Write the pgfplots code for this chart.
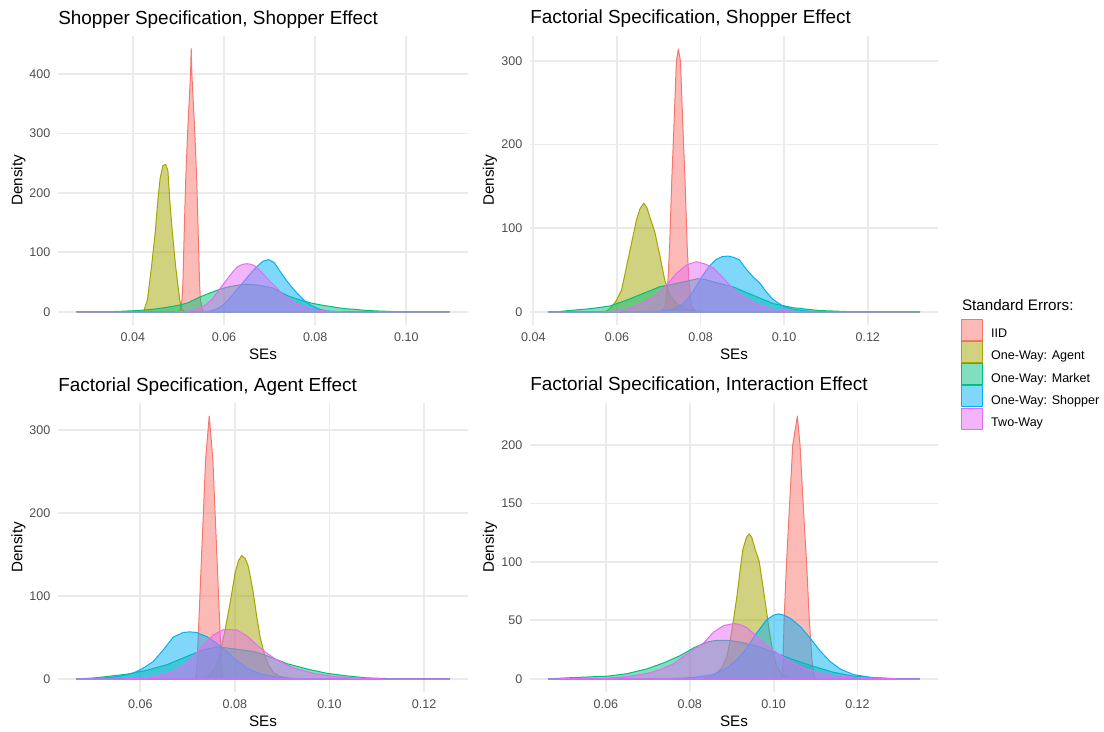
\documentclass[border=0pt]{standalone}
\usepackage{fontspec}
\setmainfont{Liberation Sans}
\usepackage{pgfplots}
\pgfplotsset{compat=1.18}

\definecolor{cIID}{HTML}{F8766D}
\definecolor{cAgent}{HTML}{A3A500}
\definecolor{cMarket}{HTML}{00BF7D}
\definecolor{cShopper}{HTML}{00B0F6}
\definecolor{cTwo}{HTML}{E76BF3}
\definecolor{gridgray}{HTML}{EBEBEB}
\definecolor{ticktext}{HTML}{4D4D4D}

\pgfplotsset{
  panel/.style={
    scale only axis, anchor=south west,
    height=216.75pt,
    axis line style={draw=none},
    major tick length=0pt,
    tick style={draw=none},
    grid=major,
    major grid style={draw=gridgray, line width=1.4pt},
    xticklabel={\pgfmathprintnumber[fixed,fixed zerofill,precision=2,assume math mode=true]{\tick}},
    yticklabel={\pgfmathprintnumber[fixed,precision=0,assume math mode=true]{\tick}},
    ticklabel style={font=\fontsize{9.4}{11}\selectfont, text=ticktext, inner sep=0pt},
    xticklabel style={anchor=north, yshift=-5.5pt},
    yticklabel style={anchor=east, xshift=-5.5pt},
    xlabel={SEs}, ylabel={Density},
    label style={font=\fontsize{11.4}{13}\selectfont, inner sep=0pt},
    xlabel style={at={(axis description cs:0.5,-0.1003)}, anchor=center},
    ylabel style={at={(axis description cs:-0.0963,0.5)}, anchor=center},
    every axis title shift=0pt,
    title style={at={(axis description cs:0,1.0415)}, anchor=base west,
                 font=\fontsize{14.2}{17}\selectfont, inner sep=0pt},
  },
  dens/.style={draw=#1, fill=#1, fill opacity=0.5, line width=0.75pt,
               line join=round, mark=none},
}

\begin{document}
\begin{tikzpicture}
\useasboundingbox (0,0) rectangle (828pt,549pt);

% ---------------- Shopper specification, shopper effect ----------------
\begin{axis}[panel, at={(43.5pt,305.25pt)}, width=307.5pt,
  title={Shopper Specification, Shopper Effect},
  xmin=0.0236, xmax=0.1135, ymin=-22.1, ymax=464.1,
  xtick={0.04,0.06,0.08,0.10}, ytick={0,100,200,300,400}]
\addplot[dens=cIID] table[row sep=\\] {
0.0277 0\\ 0.0500 0\\ 0.05039 3\\ 0.05079 20\\ 0.05099 50\\ 0.05116 100\\
0.0516 222\\ 0.05201 300\\ 0.05267 401\\ 0.05281 443\\ 0.05295 401\\
0.05361 300\\ 0.05402 222\\ 0.05446 100\\ 0.05463 50\\ 0.05483 20\\
0.05523 3\\ 0.0557 0\\ 0.1094 0\\
} \closedcycle;
\addplot[dens=cAgent] table[row sep=\\] {
0.0277 0\\ 0.0415 0\\ 0.0424 1.5\\ 0.0432 20\\ 0.0441 76\\ 0.0449 132\\
0.0455 188\\ 0.0460 225\\ 0.0466 246\\ 0.0472 248\\ 0.0477 238\\ 0.0481 188\\
0.0487 132\\ 0.0494 76\\ 0.0503 20\\ 0.0508 3\\ 0.0514 0.5\\ 0.0520 0\\ 0.1094 0\\
} \closedcycle;
\addplot[dens=cMarket] table[row sep=\\] {
0.0277 0\\ 0.0330 0.2\\ 0.0370 0.8\\ 0.0410 2.2\\ 0.0440 4\\ 0.0470 7\\
0.0500 11\\ 0.0520 15\\ 0.0547 25\\ 0.0570 32\\ 0.0591 38\\ 0.0610 42\\
0.0630 45\\ 0.0650 46.5\\ 0.0670 45.5\\ 0.0690 43\\ 0.0708 40\\ 0.0725 33\\
0.0740 27\\ 0.0755 23\\ 0.0767 20\\ 0.0790 15\\ 0.0810 12\\ 0.0826 10\\
0.0850 7\\ 0.0870 5\\ 0.0884 4.5\\ 0.0910 2.5\\ 0.0936 1.5\\ 0.0970 0.6\\
0.1010 0.2\\ 0.1094 0\\
} \closedcycle;
\addplot[dens=cShopper] table[row sep=\\] {
0.0277 0\\ 0.0540 0\\ 0.0555 0.3\\ 0.0568 1\\ 0.0584 4.5\\ 0.0595 10\\
0.0606 17\\ 0.0617 27\\ 0.0628 37\\ 0.0639 47\\ 0.0650 57\\ 0.0661 67\\
0.0672 76\\ 0.0685 85\\ 0.0698 88\\ 0.0710 83\\ 0.0723 68\\ 0.0734 56\\
0.0745 45\\ 0.0756 35\\ 0.0767 26\\ 0.0778 18\\ 0.0789 12\\ 0.0800 7.5\\
0.0811 4\\ 0.0822 2\\ 0.0835 0.8\\ 0.0860 0.1\\ 0.0900 0\\ 0.1094 0\\
} \closedcycle;
\addplot[dens=cTwo] table[row sep=\\] {
0.0277 0\\ 0.0480 0\\ 0.0500 0.3\\ 0.0525 1.5\\ 0.0545 6\\ 0.0560 12\\
0.0575 22\\ 0.0590 38\\ 0.0606 54\\ 0.0620 68\\ 0.0630 76\\ 0.0640 80\\
0.0650 81\\ 0.0660 80\\ 0.0670 76\\ 0.0686 64\\ 0.0700 52\\ 0.0716 40\\
0.0730 29\\ 0.0745 20\\ 0.0760 13\\ 0.0782 7.5\\ 0.0800 3.5\\ 0.0820 1.5\\
0.0850 0.3\\ 0.0880 0\\ 0.1094 0\\
} \closedcycle;
\end{axis}

% ---------------- Factorial specification, shopper effect ----------------
\begin{axis}[panel, at={(397.5pt,305.25pt)}, width=306pt,
  title={Factorial Specification, Shopper Effect},
  ylabel style={at={(axis description cs:-0.098,0.5)}},
  xmin=0.0392, xmax=0.1368, ymin=-15.7, ymax=329.7,
  xtick={0.04,0.06,0.08,0.10,0.12}, ytick={0,100,200,300},
  legend style={at={(axis description cs:1.0564,0.0208)}, anchor=north west,
    draw=none, fill=none, inner sep=0pt, outer sep=0pt,
    row sep=0.2pt, column sep=0pt,
    nodes={inner sep=0pt, font=\fontsize{9.4}{11}\selectfont, text=black}},
  legend cell align=left,
  legend image code/.code={
    \draw[#1, line width=0.6pt] (0.3pt,-4.65pt) rectangle (15.8pt,11.15pt);
    \path (22.3pt,0pt);}]
\addplot[dens=cIID] table[row sep=\\] {
0.0436 0\\ 0.0705 0\\ 0.07155 6\\ 0.0722 38\\ 0.0726 78\\ 0.07311 157\\
0.07347 201\\ 0.07422 300\\ 0.0747 314\\ 0.07518 300\\ 0.07593 201\\
0.07629 157\\ 0.0768 78\\ 0.0772 38\\ 0.07785 6\\ 0.0790 0\\ 0.1324 0\\
} \closedcycle;
\addlegendentry{IID}
\addplot[dens=cAgent] table[row sep=\\] {
0.0436 0\\ 0.0560 0\\ 0.0575 1\\ 0.05871 5.6\\ 0.0599 14\\ 0.0611 26\\
0.06229 54\\ 0.06348 82\\ 0.06468 110\\ 0.0655 123\\ 0.06642 130\\ 0.0672 124\\
0.06785 113.6\\ 0.06904 95.7\\ 0.07024 68\\ 0.07143 38\\ 0.07262 20\\
0.07423 10\\ 0.0766 3\\ 0.0790 1\\ 0.0820 0\\ 0.1324 0\\
} \closedcycle;
\addlegendentry{One-Way: Agent}
\addplot[dens=cMarket] table[row sep=\\] {
0.0436 0\\ 0.0460 0.3\\ 0.0495 2\\ 0.0540 4\\ 0.0583 7\\ 0.0623 14\\
0.06625 22\\ 0.07024 30\\ 0.07423 34\\ 0.0770 37\\ 0.07938 39.7\\ 0.0812 38.5\\
0.08296 36\\ 0.08773 30\\ 0.0925 20\\ 0.0973 10\\ 0.1021 5\\ 0.1084 1.6\\
0.1156 0.3\\ 0.1200 0\\ 0.1324 0\\
} \closedcycle;
\addlegendentry{One-Way: Market}
\addplot[dens=cShopper] table[row sep=\\] {
0.0436 0\\ 0.0650 0\\ 0.07024 0.8\\ 0.0734 3\\ 0.0758 9.5\\ 0.0774 18\\
0.0790 31\\ 0.08057 44\\ 0.08217 55\\ 0.08377 62.8\\ 0.0852 66\\ 0.0866 66.7\\
0.0880 65\\ 0.08933 62\\ 0.09093 51\\ 0.0925 42\\ 0.0941 35\\ 0.0957 24\\
0.0973 15\\ 0.09967 7\\ 0.1021 3\\ 0.1060 0.8\\ 0.1100 0\\ 0.1324 0\\
} \closedcycle;
\addlegendentry{One-Way: Shopper}
\addplot[dens=cTwo] table[row sep=\\] {
0.0436 0\\ 0.0560 0\\ 0.0583 0.5\\ 0.0610 1.5\\ 0.0623 3\\ 0.06625 11\\
0.06945 20\\ 0.07184 32\\ 0.07423 46\\ 0.0766 56\\ 0.0790 60\\ 0.0812 57\\
0.08296 53\\ 0.08535 41\\ 0.08773 28\\ 0.09012 18\\ 0.09331 9.5\\ 0.0973 3\\
0.1021 0.7\\ 0.1060 0\\ 0.1324 0\\
} \closedcycle;
\addlegendentry{Two-Way}
\end{axis}

% ---------------- Factorial specification, agent effect ----------------
\begin{axis}[panel, at={(43.5pt,30pt)}, width=307.5pt,
  title={Factorial Specification, Agent Effect},
  xmin=0.0426, xmax=0.1293, ymin=-15.85, ymax=332.85,
  xtick={0.06,0.08,0.10,0.12}, ytick={0,100,200,300}]
\addplot[dens=cIID] table[row sep=\\] {
0.0465 0\\ 0.0715 0\\ 0.0717 1\\ 0.07193 10\\ 0.07219 43\\ 0.07263 103\\
0.0731 167.6\\ 0.07352 224\\ 0.0738 264\\ 0.07458 317\\ 0.07536 264\\
0.07564 224\\ 0.07606 167.6\\ 0.07653 103\\ 0.07697 43\\ 0.07723 10\\
0.07746 1\\ 0.0778 0\\ 0.1254 0\\
} \closedcycle;
\addplot[dens=cAgent] table[row sep=\\] {
0.0465 0\\ 0.0720 0\\ 0.0740 0.5\\ 0.07439 3.5\\ 0.07581 13\\ 0.07687 31\\
0.07793 59\\ 0.07898 91\\ 0.08004 127.5\\ 0.0808 143\\ 0.08146 149\\
0.0822 145\\ 0.08286 135.5\\ 0.08379 107.5\\ 0.08463 75\\ 0.08533 51\\
0.08618 31\\ 0.08709 17\\ 0.08815 7.5\\ 0.08957 2.8\\ 0.0917 0.5\\
0.0940 0\\ 0.1254 0\\
} \closedcycle;
\addplot[dens=cMarket] table[row sep=\\] {
0.0465 0\\ 0.05005 1\\ 0.05712 5.6\\ 0.06135 10.3\\ 0.06559 17\\ 0.06982 27\\
0.07334 35\\ 0.07617 38.5\\ 0.0780 37.5\\ 0.0800 36\\ 0.08391 33\\
0.08675 28\\ 0.0910 18.4\\ 0.09522 12\\ 0.09945 6.7\\ 0.10368 3.6\\
0.1079 1.2\\ 0.1122 0.4\\ 0.1180 0\\ 0.1254 0\\
} \closedcycle;
\addplot[dens=cShopper] table[row sep=\\] {
0.0465 0\\ 0.0490 0.3\\ 0.05217 1\\ 0.0557 3\\ 0.05852 7\\ 0.06063 13\\
0.06275 21\\ 0.06487 35\\ 0.06698 50.5\\ 0.0691 56\\ 0.0705 56.7\\ 0.0719 56\\
0.07405 51\\ 0.07617 43\\ 0.07829 33\\ 0.0804 22\\ 0.08252 13\\ 0.08533 6\\
0.08887 2\\ 0.0924 0.5\\ 0.0960 0\\ 0.1254 0\\
} \closedcycle;
\addplot[dens=cTwo] table[row sep=\\] {
0.0465 0\\ 0.0560 0\\ 0.0610 1\\ 0.06347 3.5\\ 0.06698 9\\ 0.06982 19\\
0.07194 31\\ 0.07333 41\\ 0.07545 53\\ 0.07757 59.3\\ 0.0790 59.5\\
0.0804 59\\ 0.08252 52\\ 0.08463 41\\ 0.08675 31\\ 0.08887 23\\ 0.0924 13\\
0.09661 6.7\\ 0.10085 2.8\\ 0.1065 0.7\\ 0.1120 0\\ 0.1254 0\\
} \closedcycle;
\end{axis}

% ---------------- Factorial specification, interaction effect ----------------
\begin{axis}[panel, at={(397.5pt,30pt)}, width=306pt,
  title={Factorial Specification, Interaction Effect},
  ylabel style={at={(axis description cs:-0.098,0.5)}},
  xmin=0.0419, xmax=0.1392, ymin=-11.24, ymax=236.04,
  xtick={0.06,0.08,0.10,0.12}, ytick={0,50,100,150,200}]
\addplot[dens=cIID] table[row sep=\\] {
0.0463 0\\ 0.1010 0\\ 0.10202 1\\ 0.10225 15\\ 0.10250 50.8\\ 0.10309 100\\
0.10361 136.4\\ 0.10456 200\\ 0.10566 224.8\\ 0.10630 200\\ 0.10725 136.4\\
0.10785 100\\ 0.10851 50.8\\ 0.10916 15\\ 0.10975 1\\ 0.1105 0\\ 0.1348 0\\
} \closedcycle;
\addplot[dens=cAgent] table[row sep=\\] {
0.0463 0\\ 0.0820 0\\ 0.0833 0.5\\ 0.08568 2.8\\ 0.08768 9.4\\ 0.08887 19.4\\
0.08966 33.6\\ 0.09044 50.8\\ 0.09125 70.7\\ 0.09203 93.6\\ 0.09267 110.7\\
0.0935 121\\ 0.09417 124\\ 0.0948 121\\ 0.0956 110.7\\ 0.09655 100.7\\
0.09734 82\\ 0.09815 62\\ 0.09893 42\\ 0.09972 25\\ 0.10076 10.8\\
0.10195 3.7\\ 0.1040 0.5\\ 0.1060 0\\ 0.1348 0\\
} \closedcycle;
\addplot[dens=cMarket] table[row sep=\\] {
0.0463 0\\ 0.0516 1\\ 0.06033 2.3\\ 0.06509 4.5\\ 0.06985 8.6\\ 0.07379 13.7\\
0.07776 20\\ 0.08093 26.5\\ 0.08411 31.4\\ 0.0860 32.8\\ 0.08806 33\\
0.0900 32.6\\ 0.09203 31.4\\ 0.0960 28\\ 0.09995 22.8\\ 0.1047 16.5\\
0.10946 10.8\\ 0.11422 5.7\\ 0.1190 2.3\\ 0.1245 0.8\\ 0.1300 0.2\\ 0.1348 0\\
} \closedcycle;
\addplot[dens=cShopper] table[row sep=\\] {
0.0463 0\\ 0.0700 0\\ 0.0753 0.3\\ 0.08093 1.2\\ 0.08568 3.7\\ 0.08887 9.4\\
0.09125 16.5\\ 0.09363 26.5\\ 0.0960 39.4\\ 0.09838 50.8\\ 0.1000 54.5\\
0.10114 55.6\\ 0.1025 54.5\\ 0.10392 52\\ 0.1063 45\\ 0.10868 35\\
0.11106 24\\ 0.11344 15\\ 0.11582 8.6\\ 0.11898 3.7\\ 0.12295 1.4\\
0.1277 0.3\\ 0.1320 0\\ 0.1348 0\\
} \closedcycle;
\addplot[dens=cTwo] table[row sep=\\] {
0.0463 0\\ 0.0600 0.5\\ 0.06509 2\\ 0.06985 4.6\\ 0.07301 8\\ 0.07617 13\\
0.07855 19.4\\ 0.08093 25\\ 0.08331 30.8\\ 0.08568 40\\ 0.08806 45.6\\
0.0900 47\\ 0.09085 47.2\\ 0.0920 46.5\\ 0.09363 43.7\\ 0.0960 36.5\\
0.09838 28.5\\ 0.10076 22.3\\ 0.10392 15\\ 0.1079 8\\ 0.11265 3.7\\
0.1190 1.4\\ 0.1250 0.5\\ 0.1300 0\\ 0.1348 0\\
} \closedcycle;
\end{axis}

% legend heading
\node[anchor=base west, inner sep=0pt, font=\fontsize{11.4}{13}\selectfont]
  at (721.3pt,315.75pt) {Standard Errors:};
\end{tikzpicture}
\end{document}
